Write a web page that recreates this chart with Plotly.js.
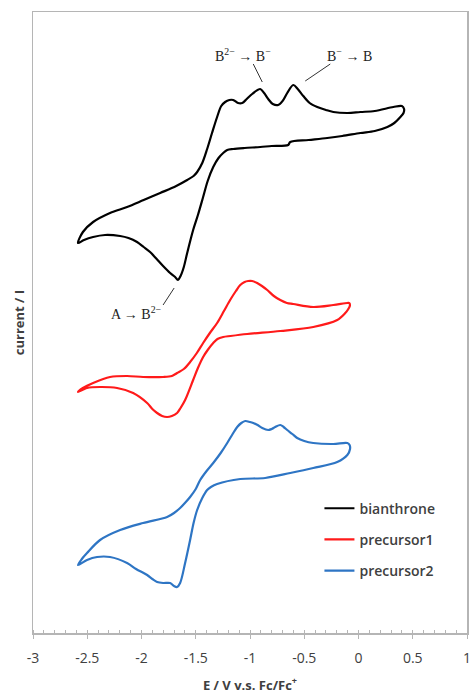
<!DOCTYPE html>
<html>
<head>
<meta charset="utf-8">
<script src="https://cdn.plot.ly/plotly-3.0.1.min.js"></script>
<style>html,body{margin:0;padding:0;background:#fff;}#chart{width:474px;height:695px;}</style>
</head>
<body>
<div id="chart"></div>
<script>
// Potential (V vs Fc/Fc+) and current (arbitrary units, traces offset vertically)
const bianthroneE = [-2.585,-2.540,-2.446,-2.290,-2.133,-1.980,-1.828,-1.680,-1.579,-1.520,-1.487,-1.440,-1.395,-1.350,-1.303,-1.265,-1.229,-1.190,-1.155,-1.110,-1.072,-1.030,-0.980,-0.906,-0.870,-0.832,-0.790,-0.740,-0.700,-0.657,-0.601,-0.560,-0.509,-0.450,-0.380,-0.300,-0.232,-0.100,0.017,0.150,0.321,0.400,0.420,0.415,0.386,0.330,0.266,0.150,0.017,-0.150,-0.288,-0.460,-0.629,-0.648,-0.800,-0.906,-1.050,-1.155,-1.210,-1.247,-1.290,-1.339,-1.390,-1.432,-1.480,-1.524,-1.579,-1.610,-1.640,-1.665,-1.690,-1.736,-1.801,-1.860,-1.921,-1.980,-2.041,-2.120,-2.197,-2.336,-2.446,-2.530,-2.585];
const bianthroneI = [390,401,411,420,426,433,440,447,453,457,461,470,484,500,516,527,531,533,533,530,530,534,539,544,540,534,529,528,532,540,548,544,537,530,526,523,521,520,521,522,526,527,524,520,516,510,506,502,500,497,495,493,491,488,487,486,485,484,483,480,475,466,452,436,418,403,380,366,357,353,356,360,367,374,381,386,391,395,397,398,396,393,390];

const precursor1E = [-2.585,-2.540,-2.446,-2.290,-2.133,-1.985,-1.801,-1.720,-1.672,-1.610,-1.552,-1.490,-1.432,-1.370,-1.303,-1.240,-1.183,-1.130,-1.090,-1.050,-1.017,-0.980,-0.934,-0.890,-0.841,-0.780,-0.721,-0.660,-0.601,-0.417,-0.232,-0.103,-0.085,-0.080,-0.100,-0.122,-0.196,-0.417,-0.721,-1.026,-1.180,-1.247,-1.300,-1.339,-1.390,-1.432,-1.480,-1.524,-1.598,-1.640,-1.672,-1.720,-1.764,-1.810,-1.856,-1.900,-1.948,-2.077,-2.225,-2.382,-2.502,-2.585];
const precursor1I = [241,245,250,256,257,256,256,257,260,264,271,280,290,300,310,322,333,342,348,351,352,352,350,347,343,337,333,330,329,326,328,330,330,327,323,320,313,306,302,299,297,296,294,290,283,276,265,253,233,225,220,217,216,217,220,224,230,240,245,246,245,241];

const precursor2E = [-2.585,-2.550,-2.502,-2.382,-2.197,-1.985,-1.764,-1.700,-1.644,-1.600,-1.552,-1.500,-1.459,-1.400,-1.339,-1.270,-1.210,-1.160,-1.118,-1.080,-1.044,-1.000,-0.970,-0.930,-0.887,-0.832,-0.800,-0.768,-0.721,-0.690,-0.657,-0.610,-0.565,-0.500,-0.417,-0.232,-0.103,-0.082,-0.078,-0.103,-0.196,-0.417,-0.629,-0.860,-1.090,-1.303,-1.360,-1.395,-1.440,-1.487,-1.520,-1.552,-1.598,-1.644,-1.672,-1.700,-1.736,-1.801,-1.856,-1.900,-1.948,-2.050,-2.133,-2.290,-2.410,-2.502,-2.585];
const precursor2I = [68,74,80,93,103,110,116,120,125,130,136,144,153,162,170,180,190,199,206,210,212,211,210,208,205,203,204,206,208,206,203,199,195,192,190,189,190,188,184,178,171,165,160,155,154,149,146,143,135,123,110,93,70,50,46,47,50,50,51,54,58,64,70,76,76,73,68];

const seriesNames = ["bianthrone","precursor1","precursor2"];
const seriesColors = ["#000000","#ff1a1a","#2e75c4"];
const xTickVals = [-3,-2.5,-2,-1.5,-1,-0.5,0,0.5,1];
const xTickText = ["-3","-2.5","-2","-1.5","-1","-0.5","0","0.5","1"];

const Es = [bianthroneE, precursor1E, precursor2E];
const Is = [bianthroneI, precursor1I, precursor2I];

const traces = seriesNames.map((n,i)=>({
  x: Es[i], y: Is[i], name: n, legendgroup: n, mode: "lines", type: "scatter",
  line: {color: seriesColors[i], width: 2.2, shape: "spline", smoothing: 0.9},
  hoverinfo: "skip"
}));

const serif = "Liberation Serif, DejaVu Serif, serif";
const sans = "Open Sans, Lato, sans-serif";

const layout = {
  width: 474, height: 695,
  margin: {l: 33, r: 7, t: 12, b: 62},
  paper_bgcolor: "#fff", plot_bgcolor: "#fff",
  showlegend: true,
  legend: {x: 0.66, y: 0.226, xanchor: "left", yanchor: "top",
    font: {family: sans, size: 14, color: "#404040", weight: 600}, bgcolor: "rgba(0,0,0,0)",
    tracegroupgap: 10, itemwidth: 30},
  xaxis: {range: [-3, 1], tickvals: xTickVals, ticktext: xTickText,
    showgrid: false, zeroline: false, showline: true, linecolor: "#b5b5b5", linewidth: 1.5,
    mirror: true, ticks: "outside", ticklen: 4, tickcolor: "#b5b5b5",
    ticklabelstandoff: 8,
    minor: {dtick: 0.1, ticks: "inside", ticklen: 3, tickcolor: "#b5b5b5"},
    tickfont: {family: sans, size: 14, color: "#404040"},
    title: {text: "<b>E / V v.s. Fc/Fc<sup>+</sup></b>", font: {family: sans, size: 13, color: "#404040"}, standoff: 14}},
  yaxis: {range: [0, 621], showticklabels: false, ticks: "", showgrid: false, zeroline: false,
    showline: true, linecolor: "#b5b5b5", linewidth: 1.5, mirror: true,
    title: {text: "<b>current / I</b>", font: {family: sans, size: 13, color: "#404040"}, standoff: 4}},
  annotations: [
    {x: -1.063, y: 578, text: "B<sup>2−</sup> → B<sup>−</sup>", showarrow: false, font: {family: serif, size: 14, color: "#222"}},
    {x: -0.085, y: 578, text: "B<sup>−</sup> → B", showarrow: false, font: {family: serif, size: 14, color: "#222"}},
    {x: -2.05, y: 320, text: "A → B<sup>2−</sup>", showarrow: false, font: {family: serif, size: 14, color: "#222"}}
  ],
  shapes: [
    {type: "line", x0: -0.970, y0: 569, x1: -0.887, y1: 551, line: {color: "#333", width: 1}},
    {type: "line", x0: -0.260, y0: 569, x1: -0.491, y1: 552, line: {color: "#333", width: 1}},
    {type: "line", x0: -1.699, y0: 345, x1: -1.801, y1: 328, line: {color: "#333", width: 1}}
  ]
};

Plotly.newPlot("chart", traces, layout, {displayModeBar: false, staticPlot: true});
</script>
</body>
</html>
